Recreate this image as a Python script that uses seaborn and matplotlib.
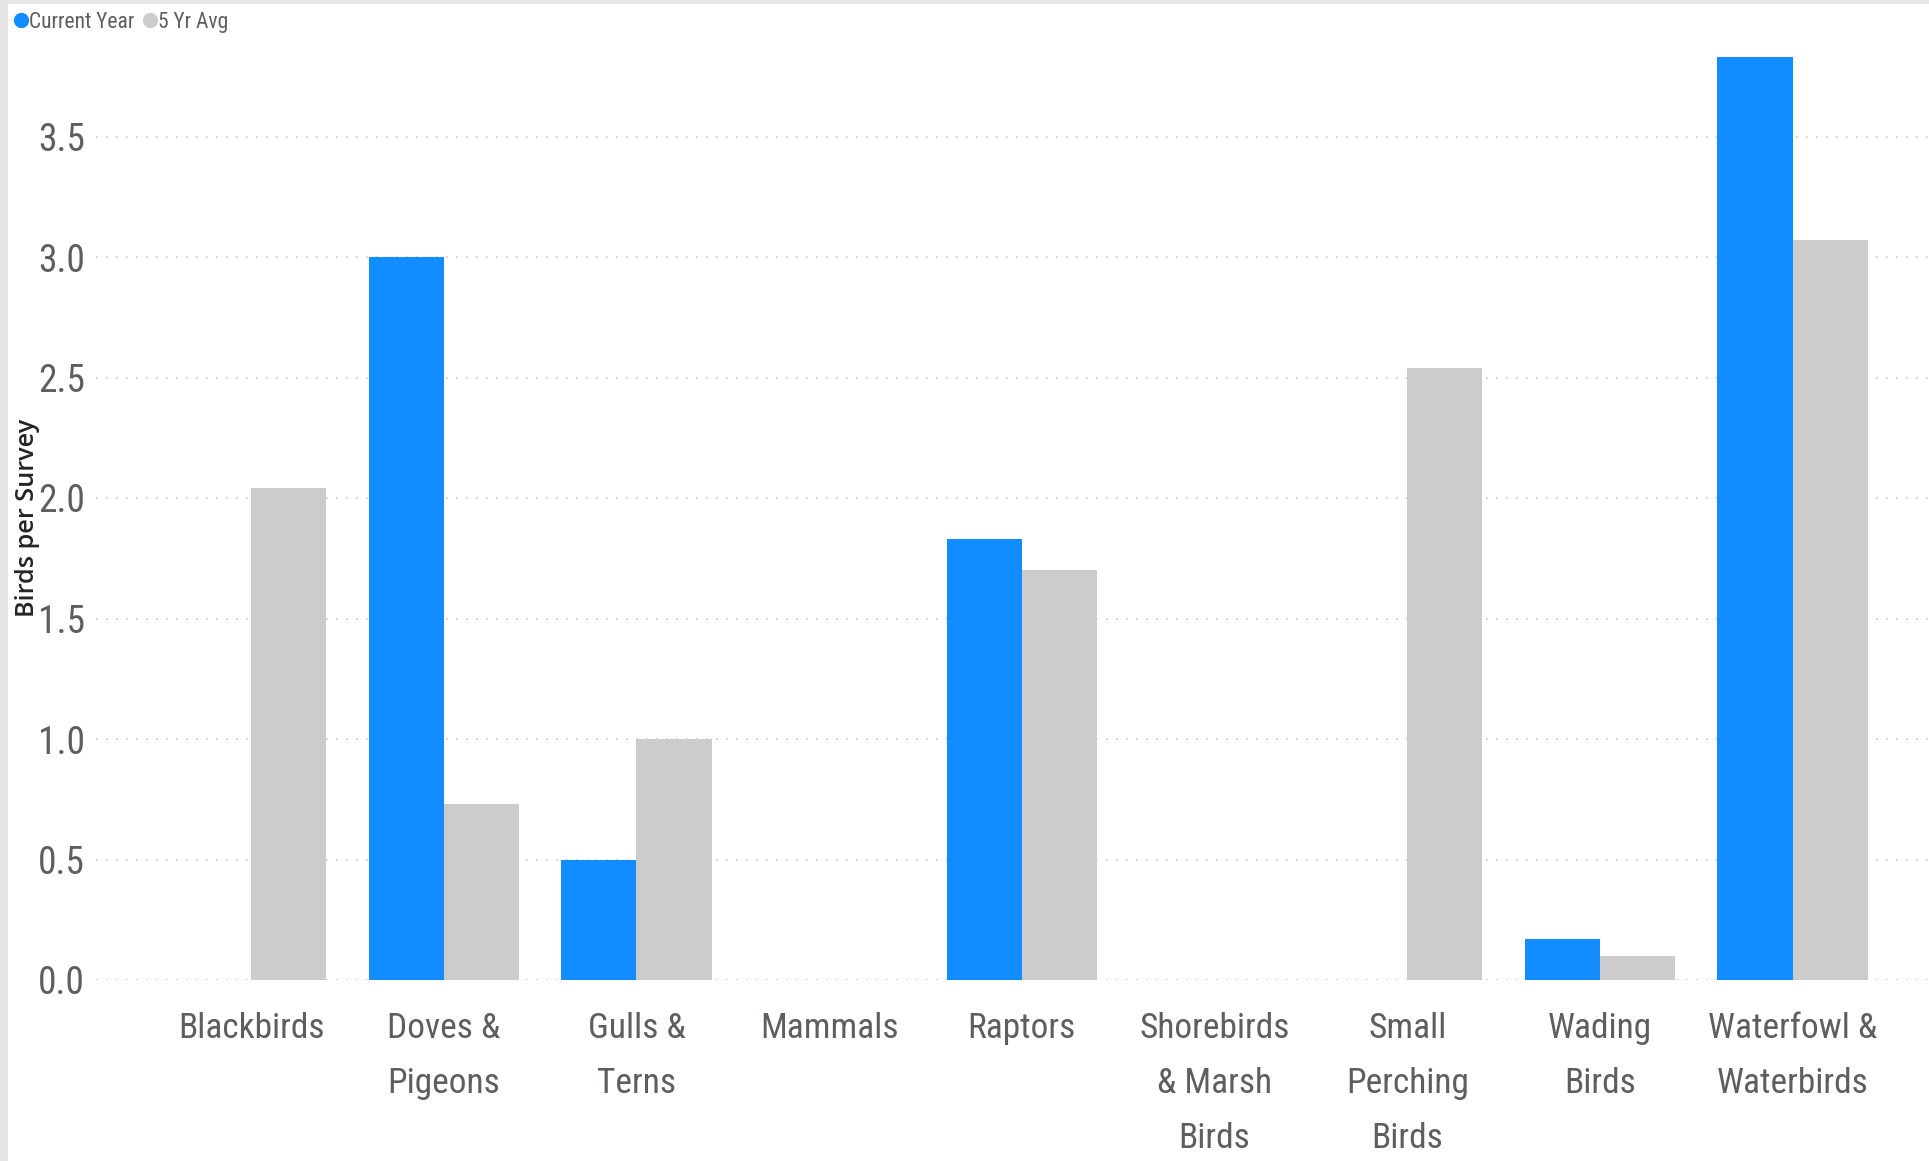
import matplotlib
matplotlib.use("Agg")
import matplotlib.pyplot as plt
import seaborn as sns
import pandas as pd
from matplotlib.lines import Line2D
from matplotlib.patches import Rectangle

categories = ["Blackbirds", "Doves & Pigeons", "Gulls & Terns", "Mammals", "Raptors",
              "Shorebirds & Marsh Birds", "Small Perching Birds", "Wading Birds",
              "Waterfowl & Waterbirds"]
tick_labels = ["Blackbirds", "Doves &\nPigeons", "Gulls &\nTerns", "Mammals", "Raptors",
               "Shorebirds\n& Marsh\nBirds", "Small\nPerching\nBirds", "Wading\nBirds",
               "Waterfowl &\nWaterbirds"]
series_names = ["Current Year", "5 Yr Avg"]
current_year = [0.0, 3.00, 0.50, 0.0, 1.83, 0.0, 0.0, 0.17, 3.83]
five_yr_avg = [2.04, 0.73, 1.00, 0.0, 1.70, 0.0, 2.54, 0.10, 3.07]
y_ticks = [0.0, 0.5, 1.0, 1.5, 2.0, 2.5, 3.0, 3.5]
colors = ["#118DFF", "#CCCCCC"]

df = pd.DataFrame({
    "Category": categories * 2,
    "Series": [series_names[0]] * len(categories) + [series_names[1]] * len(categories),
    "Value": current_year + five_yr_avg,
})

sns.set_theme(style="white")
cond = ["Liberation Sans Narrow", "DejaVu Sans Condensed", "Roboto Condensed", "Open Sans", "DejaVu Sans"]
plt.rcParams["font.family"] = cond
text_col = "#605E5C"

W, H = 1929, 1161
fig = plt.figure(figsize=(W / 100, H / 100), dpi=100)
fig.patch.set_facecolor("white")
ax_left, ax_bottom = 96 / W, (H - 980) / H
ax_top = 1 - 28 / H
ax = fig.add_axes([ax_left, ax_bottom, 1 - ax_left, ax_top - ax_bottom])

sns.barplot(data=df, x="Category", y="Value", hue="Series", order=categories,
            hue_order=series_names, palette=colors, width=0.78, gap=0,
            saturation=1, errorbar=None, ax=ax, legend=False, zorder=3, linewidth=0)

ax.set_ylim(0, (980 - 28) / 241)
ax.set_xlim(-0.805, (W - 251) / 192.7)
ax.set_yticks(y_ticks)
ax.set_yticklabels([f"{v:.1f}" for v in y_ticks], fontsize=27, color=text_col)
ax.set_xticks(range(len(categories)))
ax.set_xticklabels(tick_labels, fontsize=25.5, color=text_col, linespacing=1.85, va="top")
ax.tick_params(axis="x", length=0, pad=23)
ax.tick_params(axis="y", length=0, pad=8)
ax.set_xlabel("")
ax.set_ylabel("Birds per Survey", fontsize=18.2, color="#252423", fontweight="semibold",
              family=["Open Sans", "DejaVu Sans"], va="center")
ax.yaxis.set_label_coords((28 - 96) / (W - 96), (980 - 518) / (980 - 28))
for s in ax.spines.values():
    s.set_visible(False)
ax.grid(axis="y", color="#C8C8C8", linestyle=(0, (1, 5)), linewidth=1.2, zorder=0)
ax.grid(axis="x", visible=False)
ax.set_axisbelow(True)

# frame borders (top and left)
fig.patches.append(Rectangle((0, 1 - 4 / H), 1, 4 / H, transform=fig.transFigure,
                             facecolor="#E6E6E6", edgecolor="none", zorder=0))
fig.patches.append(Rectangle((0, 0), 8 / W, 1, transform=fig.transFigure,
                             facecolor="#E6E6E6", edgecolor="none", zorder=0))

handles = [Line2D([], [], marker="o", linestyle="", markersize=10, color=c) for c in colors]
fig.legend(handles, series_names, loc="upper left", bbox_to_anchor=(12 / W, 1 - 12 / H),
           ncol=2, frameon=False, fontsize=15.5, handletextpad=0.0, columnspacing=0.3,
           handlelength=0.8, borderpad=0, borderaxespad=0, labelcolor=text_col)

fig.savefig("out.png", dpi=100)
